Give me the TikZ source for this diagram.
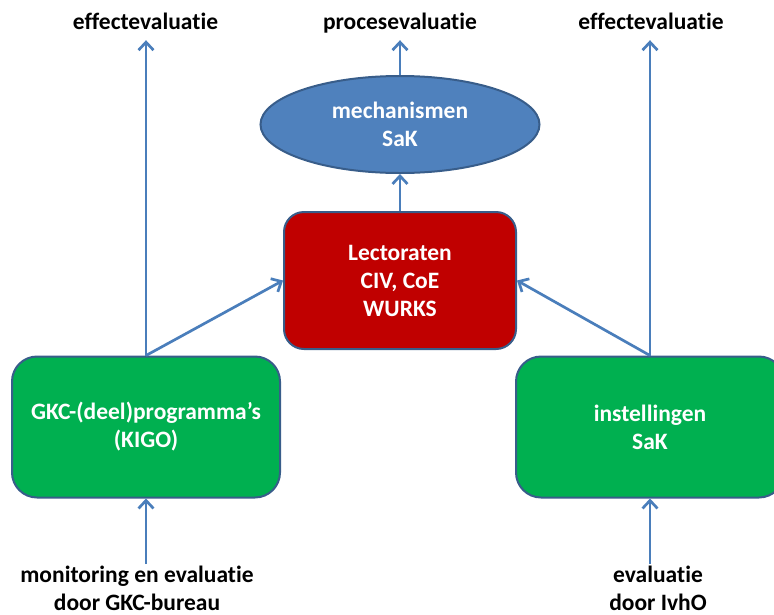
\documentclass[tikz,border=0pt]{standalone}
\usepackage{fontspec}
\setmainfont[Ligatures=NoCommon]{Carlito}
\usetikzlibrary{arrows.meta,shapes.geometric}
\definecolor{boxgreen}{HTML}{00B050}
\definecolor{boxred}{HTML}{C00000}
\definecolor{ellblue}{HTML}{4F81BD}
\definecolor{edgeblue}{HTML}{385D8A}
\definecolor{arrblue}{HTML}{4A7EBB}
\begin{document}
\begin{tikzpicture}[x=1pt,y=-1pt,
  every node/.style={font=\fontsize{23.5}{28}\selectfont\bfseries, align=center},
  greenbox/.style={rectangle, rounded corners=25pt, fill=boxgreen, draw=edgeblue, line width=2pt, minimum width=268pt, minimum height=141pt, text=white},
  redbox/.style={rectangle, rounded corners=20pt, fill=boxred, draw=edgeblue, line width=2pt, minimum width=232pt, minimum height=137pt, text=white},
  mechell/.style={ellipse, fill=ellblue, draw=edgeblue, line width=2pt, minimum width=279pt, minimum height=97pt, inner sep=0pt, text=white},
  toplabel/.style={anchor=base, text depth=7pt, inner sep=4pt},
  botlabel/.style={anchor=north, inner sep=2pt},
  arr/.style={draw=arrblue, line width=2.7pt, -{Straight Barb[length=8pt,width=15pt,line width=2.7pt]}}
]
\useasboundingbox (0,0) rectangle (774,614);
\clip (0,0) rectangle (774,614);
\node[greenbox] (gkc) at (146,427) {GKC-(deel)programma’s\\(KIGO)};
\node[greenbox] (inst) at (650,427) {instellingen\\SaK};
\node[redbox] (lect) at (400,280.5) {Lectoraten\\CIV, CoE\\WURKS};
\node[mechell] (mech) at (400,124.5) {mechanismen\\SaK};
\node[toplabel] (eff1) at (145.5,29) {effectevaluatie};
\node[toplabel] (proc) at (400,29) {procesevaluatie};
\node[toplabel] (eff2) at (651,29) {effectevaluatie};
\node[botlabel] (mon) at (137,564) {monitoring en evaluatie\\door GKC-bureau};
\node[botlabel] (ivho) at (658,564) {evaluatie\\door IvhO};
\draw[arr] (gkc.north) -- (gkc.north |- eff1.south);
\draw[arr] (inst.north) -- (inst.north |- eff2.south);
\draw[arr] (mech.north) -- (proc.south);
\draw[arr] (lect.north) -- (mech.south);
\draw[arr] (gkc.north) -- (lect.west);
\draw[arr] (inst.north) -- (lect.east);
\draw[arr] (mon.north -| gkc.south) -- (gkc.south);
\draw[arr] (ivho.north -| inst.south) -- (inst.south);
\end{tikzpicture}
\end{document}
